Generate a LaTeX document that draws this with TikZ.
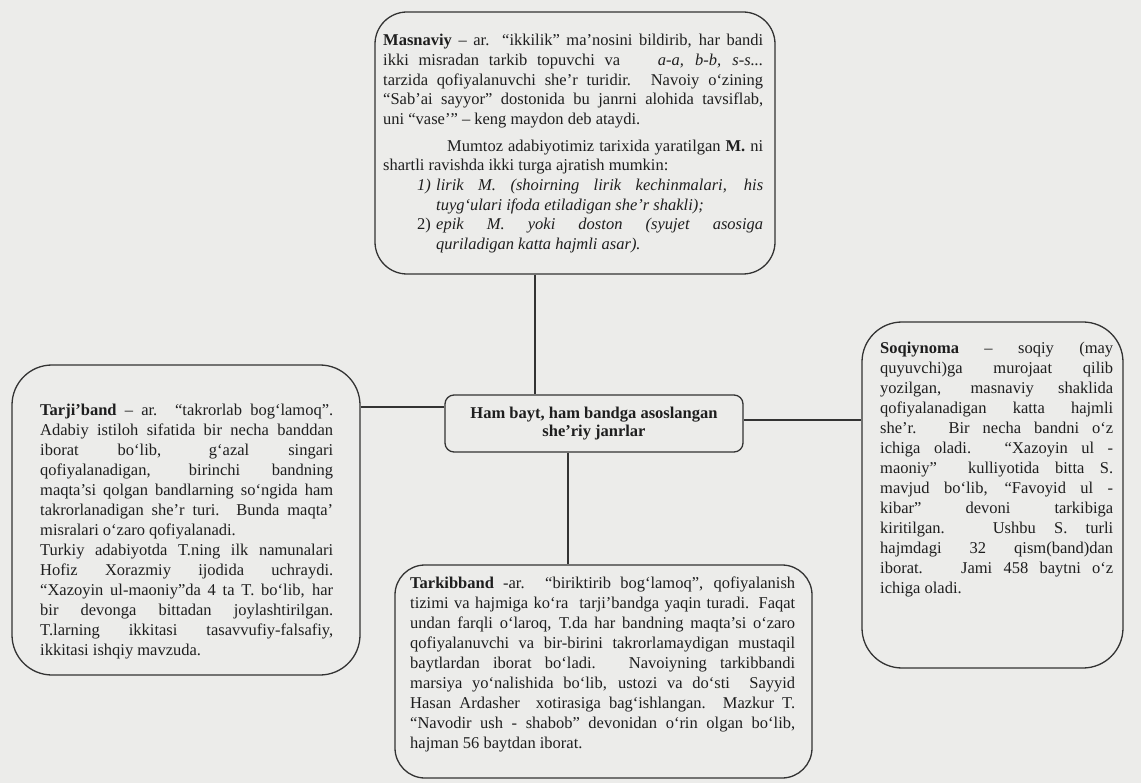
\documentclass[tikz,border=0pt]{standalone}
\usepackage{fontspec}
\setmainfont{Liberation Serif}
\definecolor{bg}{HTML}{ECECEA}
\definecolor{ln}{HTML}{333333}
\definecolor{tx}{HTML}{1E1E1E}
\newcommand{\parset}{\tolerance=10000 \hbadness=10000 \hyphenpenalty=10000 \exhyphenpenalty=10000 \parindent=0pt}
\tikzset{
  box/.style={draw=ln, line width=1.3pt, rounded corners=#1, inner sep=0pt},
  box/.default=30pt,
  txt/.style={text=tx, inner sep=0pt, anchor=north west, align=justify,
    font=\fontsize{16.5}{20}\selectfont},
  conn/.style={draw=ln, line width=1.2pt}
}
\begin{document}
\begin{tikzpicture}[x=1pt,y=-1pt]
\fill[bg] (0,0) rectangle (1141,783);
\useasboundingbox (0,0) rectangle (1141,783);

% boxes
\node[box=32pt, minimum width=400pt, minimum height=262pt] (top) at (575,143) {};
\node[box=40pt, minimum width=348pt, minimum height=310pt] (lft) at (186,520) {};
\node[box=9pt, minimum width=298pt, minimum height=57pt] (ctr) at (594,423.5) {};
\node[box=40pt, minimum width=261pt, minimum height=346pt] (rgt) at (992.5,495) {};
\node[box=30pt, minimum width=417pt, minimum height=213pt] (bot) at (603.5,671.5) {};

% connector positions
\coordinate (upx) at (535,0);
\coordinate (dnx) at (568,0);
\coordinate (ly) at (0,407);
\coordinate (ry) at (0,420);
\draw[conn] (top.south -| upx) -- (ctr.north -| upx);
\draw[conn] (ctr.south -| dnx) -- (bot.north -| dnx);
\draw[conn] (lft.east |- ly) -- (ctr.west |- ly);
\draw[conn] (ctr.east |- ry) -- (rgt.west |- ry);

% texts
\node[txt, text width=380pt, font=\fontsize{16.5}{19.7}\selectfont] (ttop) at (383,34) {\parset
\textbf{Masnaviy} – ar. “ikkilik” ma’nosini bildirib, har bandi\linebreak
ikki misradan tarkib topuvchi va \hspace{28pt}\textit{a-a, b-b, s-s...}\linebreak
tarzida qofiyalanuvchi she’r turidir. Navoiy o‘zining\linebreak
“Sab’ai sayyor” dostonida bu janrni alohida tavsiflab,\linebreak
uni “vase’” – keng maydon deb ataydi.\par\vskip 7pt
\hspace*{64pt}Mumtoz adabiyotimiz tarixida yaratilgan \textbf{M.} ni\linebreak
shartli ravishda ikki turga ajratish mumkin:\par
\hangindent=53pt \hangafter=1 \noindent\hspace*{34pt}\makebox[19pt][l]{\textit{1)}}\textit{lirik M. (shoirning lirik kechinmalari, his\linebreak
tuyg‘ulari ifoda etiladigan she’r shakli);}\par
\hangindent=53pt \hangafter=1 \noindent\hspace*{34pt}\makebox[19pt][l]{2)}\textit{epik M. yoki doston (syujet asosiga\linebreak
quriladigan katta hajmli asar).}\par};

\node[txt, text width=293pt] (tlft) at (40,404) {\parset
\textbf{Tarji’band} – ar. “takrorlab bog‘lamoq”.\linebreak
Adabiy istiloh sifatida bir necha banddan\linebreak
iborat bo‘lib, g‘azal singari\linebreak
qofiyalanadigan, birinchi bandning\linebreak
maqta’si qolgan bandlarning so‘ngida ham\linebreak
takrorlanadigan she’r turi. Bunda maqta’\linebreak
misralari o‘zaro qofiyalanadi.\par
Turkiy adabiyotda T.ning ilk namunalari\linebreak
Hofiz Xorazmiy ijodida uchraydi.\linebreak
“Xazoyin ul-maoniy”da 4 ta T. bo‘lib, har\linebreak
bir devonga bittadan joylashtirilgan.\linebreak
T.larning ikkitasi tasavvufiy-falsafiy,\linebreak
ikkitasi ishqiy mavzuda.\par};

\node[text=tx, inner sep=0pt, align=center, font=\fontsize{16.5}{18.5}\selectfont\bfseries] (tctr) at (ctr.center) {Ham bayt, ham bandga asoslangan\\she’riy janrlar};

\node[txt, text width=233pt] (trgt) at (880,342) {\parset
\textbf{Soqiynoma} – soqiy (may\linebreak
quyuvchi)ga murojaat qilib\linebreak
yozilgan, masnaviy shaklida\linebreak
qofiyalanadigan katta hajmli\linebreak
she’r. Bir necha bandni o‘z\linebreak
ichiga oladi. “Xazoyin ul -\linebreak
maoniy” \ kulliyotida bitta S.\linebreak
mavjud bo‘lib, “Favoyid ul -\linebreak
kibar” devoni tarkibiga\linebreak
kiritilgan. Ushbu S. turli\linebreak
hajmdagi 32 qism(band)dan\linebreak
iborat. \ Jami 458 baytni o‘z\linebreak
ichiga oladi.\par};

\node[txt, text width=385pt] (tbot) at (410,577) {\parset
\textbf{Tarkibband} -ar. “biriktirib bog‘lamoq”, qofiyalanish\linebreak
tizimi va hajmiga ko‘ra \ tarji’bandga yaqin turadi. Faqat\linebreak
undan farqli o‘laroq, T.da har bandning maqta’si o‘zaro\linebreak
qofiyalanuvchi va bir-birini takrorlamaydigan mustaqil\linebreak
baytlardan iborat bo‘ladi. Navoiyning tarkibbandi\linebreak
marsiya yo‘nalishida bo‘lib, ustozi va do‘sti \ Sayyid\linebreak
Hasan Ardasher \ xotirasiga bag‘ishlangan. Mazkur T.\linebreak
“Navodir ush - shabob” devonidan o‘rin olgan bo‘lib,\linebreak
hajman 56 baytdan iborat.\par};
\end{tikzpicture}
\end{document}
